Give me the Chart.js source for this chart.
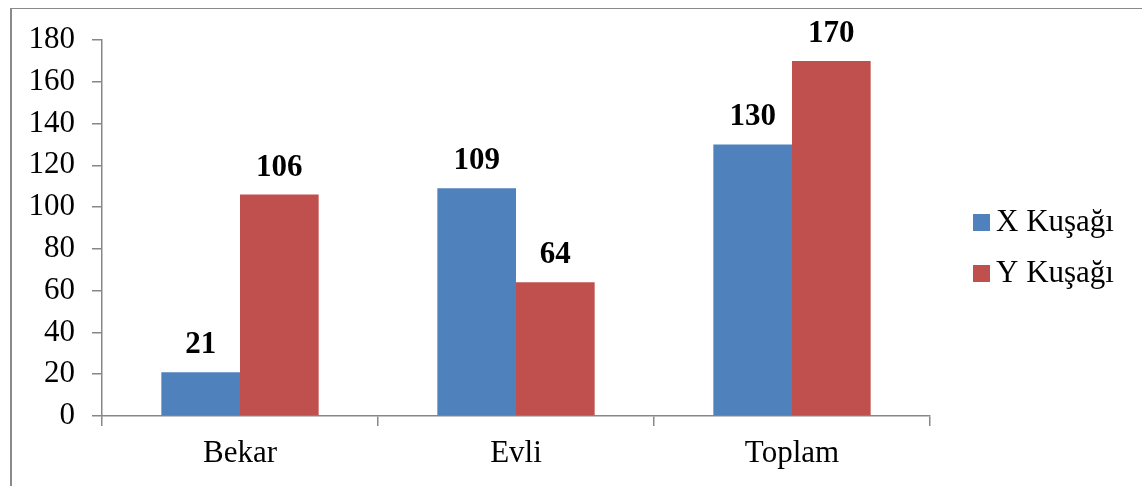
<!DOCTYPE html>
<html>
<head>
<meta charset="utf-8">
<script src="https://cdn.jsdelivr.net/npm/chart.js@4.4.0/dist/chart.umd.min.js"></script>
<style>
    body { margin: 0; background: #fff; }
    #wrap { position: relative; width: 1142px; height: 486px; overflow: hidden; }
    #frame {
        position: absolute; left: 10px; top: 8px; width: 1150px; height: 500px;
        border-left: 2px solid #8a8a8a; border-top: 1px solid #8a8a8a;
    }
    #kusakChart { position: absolute; left: 0; top: 0; }
</style>
</head>
<body>
<div id="wrap">
    <div id="frame"></div>
    <canvas id="kusakChart" width="1142" height="486"></canvas>
</div>
<script>
const categories = ["Bekar", "Evli", "Toplam"];
const seriesNames = ["X Kuşağı", "Y Kuşağı"];
const xKusagi = [21, 109, 130];
const yKusagi = [106, 64, 170];
const yTicks = [0, 20, 40, 60, 80, 100, 120, 140, 160, 180];

const serif = "'Liberation Serif', 'Times New Roman', serif";
const axisGray = "#878787";

// value labels above each bar
const barValues = {
    id: "barValues",
    afterDatasetsDraw(chart) {
        let ctx = chart.ctx;
        ctx.save();
        ctx.font = "bold 31px " + serif;
        ctx.fillStyle = "#000";
        ctx.textAlign = "center";
        ctx.textBaseline = "alphabetic";
        chart.data.datasets.forEach(function(ds, i) {
            chart.getDatasetMeta(i).data.forEach(function(bar, j) {
                ctx.fillText(ds.data[j], bar.x, bar.y - 19);
            });
        });
        ctx.restore();
    }
};

// legend to the right of the plot
const sideLegend = {
    id: "sideLegend",
    afterDraw(chart) {
        let ctx = chart.ctx;
        ctx.save();
        ctx.font = "31px " + serif;
        ctx.textAlign = "left";
        ctx.textBaseline = "middle";
        chart.data.datasets.forEach(function(ds, i) {
            let y = 214 + i * 51;
            ctx.fillStyle = ds.backgroundColor;
            ctx.fillRect(973, y, 17, 17);
            ctx.fillStyle = "#000";
            ctx.fillText(ds.label, 996, y + 9);
        });
        ctx.restore();
    }
};

let ctx = document.getElementById("kusakChart").getContext("2d");
let kusakChart = new Chart(ctx, {
    type: "bar",
    data: {
        labels: categories,
        datasets: [{
            label: seriesNames[0],
            data: xKusagi,
            backgroundColor: "#4F81BD"
        }, {
            label: seriesNames[1],
            data: yKusagi,
            backgroundColor: "#C0504D"
        }]
    },
    options: {
        responsive: false,
        maintainAspectRatio: false,
        animation: false,
        categoryPercentage: 0.57,
        barPercentage: 1,
        layout: { padding: { top: 40, right: 212, left: 0, bottom: 0 } },
        plugins: {
            legend: { display: false },
            tooltip: { enabled: false }
        },
        scales: {
            x: {
                afterFit: function(s) { s.height = 70; },
                border: { color: axisGray, width: 1.5 },
                grid: {
                    offset: true,
                    drawOnChartArea: false,
                    color: axisGray,
                    lineWidth: 1.5,
                    tickLength: 10
                },
                ticks: {
                    color: "#000",
                    padding: 9,
                    font: { family: serif, size: 31 }
                }
            },
            y: {
                min: 0,
                max: 180,
                afterFit: function(s) { s.width = 102; },
                afterBuildTicks: function(s) {
                    s.ticks = yTicks.map(function(v) { return { value: v }; });
                },
                border: { color: axisGray, width: 1.5 },
                grid: {
                    drawOnChartArea: false,
                    color: axisGray,
                    lineWidth: 1.5,
                    tickLength: 10
                },
                ticks: {
                    color: "#000",
                    padding: 17,
                    font: { family: serif, size: 31 }
                }
            }
        }
    },
    plugins: [barValues, sideLegend]
});
</script>
</body>
</html>
